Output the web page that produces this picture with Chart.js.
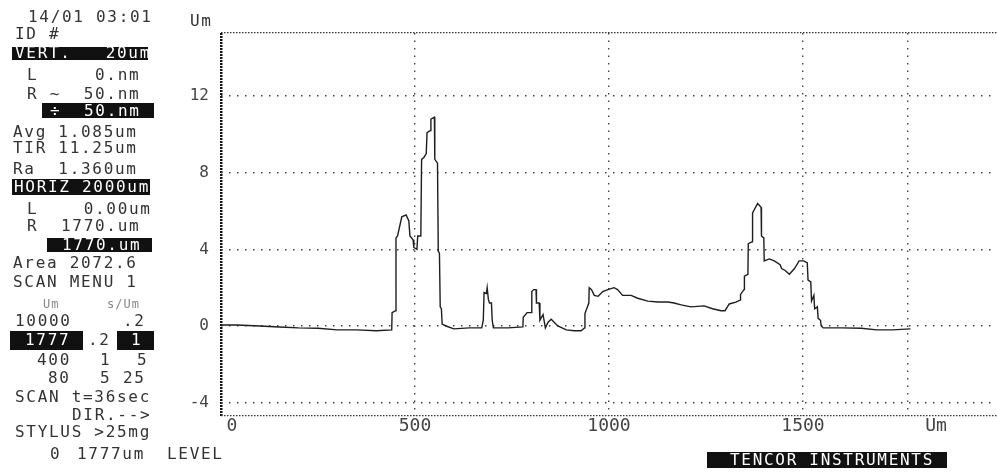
<!DOCTYPE html>
<html>
<head>
<meta charset="utf-8">
<script src="https://cdn.jsdelivr.net/npm/chart.js@4.4.1/dist/chart.umd.min.js"></script>
<style>
  body { margin: 0; background: #fff; }
  #wrap { position: relative; width: 997px; height: 476px; overflow: hidden; }
  #graph { position: absolute; left: 0; top: 0; }
  .t { position: absolute; white-space: pre; font: 16px 'DejaVu Sans Mono', monospace; letter-spacing: 1.7px; line-height: 18px; color: #333; }
  .inv { color: #fff; }
  .small { font-size: 12px; letter-spacing: 1px; color: #888; }
  .bar { position: absolute; background: #111; }
</style>
</head>
<body>
<div id="wrap"><canvas id="graph" width="997" height="476"></canvas></div>
<script>
// profile (scan position in um, height in um)
const positionUm = [0, 40, 100, 150, 200, 250, 300, 350, 400, 440,
  441, 450, 451, 455, 466, 477, 484, 487, 495, 497,
  505, 507, 515, 517, 523, 529, 531, 539, 541, 550,
  551, 558, 560, 563, 565, 568, 570, 580, 600, 640,
  672, 676, 678, 684, 686, 689, 692, 697, 699, 702,
  740, 778, 779, 789, 800, 801, 806, 812, 813, 820,
  822, 830, 836, 843, 851, 868, 890, 910, 928, 937,
  938, 948, 949, 955, 962, 972, 984, 997, 1013, 1022,
  1035, 1057, 1074, 1100, 1126, 1152, 1168, 1186, 1211, 1245,
  1267, 1289, 1299, 1310, 1327, 1338, 1339, 1348, 1349, 1358,
  1359, 1369, 1370, 1383, 1392, 1393, 1399, 1400, 1413, 1426,
  1441, 1445, 1454, 1465, 1478, 1490, 1502, 1511, 1513, 1520,
  1522, 1528, 1530, 1537, 1539, 1545, 1547, 1552, 1600, 1650,
  1690, 1730, 1777];
const heightUm = [0.05, 0.05, 0.0, -0.05, -0.1, -0.12, -0.2, -0.2, -0.25, -0.2,
  0.7, 0.8, 4.6, 4.7, 5.7, 5.8, 5.5, 4.7, 4.5, 4.1,
  4.0, 4.7, 4.7, 8.7, 8.8, 9.0, 10.1, 10.2, 10.8, 10.9,
  8.7, 8.5, 3.9, 3.8, 1.0, 0.9, 0.1, 0.0, -0.15, -0.1,
  -0.1, 0.3, 1.75, 1.7, 2.0, 1.4, 1.2, 1.2, 0.3, -0.1,
  -0.1, -0.05, 0.45, 0.7, 0.7, 1.8, 1.9, 1.9, 1.2, 1.2,
  0.3, 0.6, -0.1, 0.2, 0.35, 0.0, -0.2, -0.25, -0.25, -0.1,
  0.65, 1.2, 2.0, 1.9, 1.6, 1.55, 1.8, 1.9, 2.0, 1.9,
  1.6, 1.6, 1.45, 1.3, 1.25, 1.25, 1.2, 1.1, 1.0, 1.05,
  0.9, 0.8, 0.8, 1.15, 1.25, 1.35, 1.65, 1.9, 2.6, 2.7,
  4.3, 4.4, 5.9, 6.4, 6.2, 4.7, 4.6, 3.4, 3.5, 3.4,
  3.2, 3.0, 2.9, 2.7, 3.0, 3.4, 3.4, 3.3, 2.4, 2.3,
  1.3, 1.6, 0.9, 1.0, 0.4, 0.3, 0.0, -0.1, -0.1, -0.12,
  -0.2, -0.2, -0.15];

// axes: -4.7 / 15.3 are the frame edges (VERT 20um), 1770 is the R cursor
const yTickValues = [-4.7, -4, 0, 4, 8, 12, 15.3];
const yTickLabels = ['', '-4', '0', '4', '8', '12', ''];
const xTickValues = [0, 500, 1000, 1500, 1770, 1843];
const xTickLabels = ['0', '500', '1000', '1500', '', 'Um'];

// left panel of the printout
const panel = [
  { x: 28, y: 17, t: '14/01 03:01' },
  { x: 15, y: 34, t: 'ID #' },
  { x: 15, y: 53, t: 'VERT.   20um', bar: [12, 148, 47, 60] },
  { x: 27, y: 75, t: 'L     0.nm' },
  { x: 27, y: 94, t: 'R ~  50.nm' },
  { x: 50, y: 111, t: '÷  50.nm', bar: [42, 154, 103, 118] },
  { x: 13, y: 132, t: 'Avg 1.085um' },
  { x: 13, y: 148, t: 'TIR 11.25um' },
  { x: 13, y: 169, t: 'Ra  1.360um' },
  { x: 14, y: 187, t: 'HORIZ 2000um', bar: [12, 150, 179, 195] },
  { x: 27, y: 209, t: 'L    0.00um' },
  { x: 27, y: 226, t: 'R  1770.um' },
  { x: 62, y: 245, t: '1770.um', bar: [47, 152, 238, 252] },
  { x: 13, y: 263, t: 'Area 2072.6' },
  { x: 13, y: 282, t: 'SCAN MENU 1' },
  { x: 43, y: 304, t: 'Um', small: true },
  { x: 107, y: 304, t: 's/Um', small: true },
  { x: 15, y: 321, t: '10000' },
  { x: 123, y: 321, t: '.2' },
  { x: 25, y: 340, t: '1777', bar: [10, 83, 331, 350] },
  { x: 88, y: 340, t: '.2' },
  { x: 131, y: 340, t: '1', bar: [117, 154, 331, 350] },
  { x: 37, y: 360, t: '400' },
  { x: 100, y: 360, t: '1' },
  { x: 137, y: 360, t: '5' },
  { x: 48, y: 378, t: '80' },
  { x: 100, y: 378, t: '5' },
  { x: 123, y: 378, t: '25' },
  { x: 15, y: 397, t: 'SCAN t=36sec' },
  { x: 72, y: 415, t: 'DIR.-->' },
  { x: 15, y: 432, t: 'STYLUS >25mg' },
  { x: 50, y: 454, t: '0' },
  { x: 77, y: 454, t: '1777um' },
  { x: 167, y: 454, t: 'LEVEL' },
  { x: 190, y: 21, t: 'Um' },
  { x: 730, y: 460, t: 'TENCOR INSTRUMENTS', bar: [707, 947, 452, 468] }
];

const wrap = document.getElementById('wrap');
panel.forEach(p => {
  if (p.bar) {
    const b = document.createElement('div');
    b.className = 'bar';
    b.style.left = p.bar[0] + 'px';
    b.style.width = (p.bar[1] - p.bar[0]) + 'px';
    b.style.top = p.bar[2] + 'px';
    b.style.height = (p.bar[3] - p.bar[2]) + 'px';
    wrap.appendChild(b);
  }
  const d = document.createElement('div');
  d.className = 't' + (p.bar ? ' inv' : '') + (p.small ? ' small' : '');
  d.textContent = p.t;
  d.style.left = p.x + 'px';
  d.style.top = (p.y - 9) + 'px';
  wrap.appendChild(d);
});

const mono = "'DejaVu Sans Mono', monospace";
const isFrame = c => c.tick && (c.tick.value === -4.7 || c.tick.value === 15.3);

const ctx = document.getElementById('graph').getContext('2d');
new Chart(ctx, {
  type: 'line',
  data: {
    datasets: [{
      data: positionUm.map((x, i) => ({ x: x, y: heightUm[i] })),
      borderColor: '#1e1e1e',
      borderWidth: 1.4,
      pointRadius: 0,
      tension: 0,
      fill: false
    }]
  },
  options: {
    responsive: false,
    animation: false,
    events: [],
    layout: { padding: { top: 33, left: 0, right: 0, bottom: 0 } },
    plugins: { legend: { display: false }, tooltip: { enabled: false } },
    scales: {
      x: {
        type: 'linear',
        min: 0,
        max: 2000,
        afterBuildTicks: s => { s.ticks = xTickValues.map(v => ({ value: v })); },
        afterFit: s => { s.height = 60; },
        ticks: {
          autoSkip: false,
          maxRotation: 0,
          padding: 0,
          color: '#444',
          font: { family: mono, size: 18 },
          callback: (v, i) => (i === 0 ? '  ' : '') + xTickLabels[i]
        },
        grid: {
          drawTicks: false,
          color: c => (c.tick && c.tick.value === 1843) ? 'rgba(0,0,0,0)' : (c.tick && c.tick.value === 0 ? '#111' : '#444'),
          lineWidth: c => (c.tick && c.tick.value === 0) ? 2.5 : 1.4
        },
        border: {
          display: false,
          dash: c => (c.tick && c.tick.value === 0) ? [2, 1] : [1.5, 6]
        }
      },
      y: {
        min: -4.7,
        max: 15.3,
        afterBuildTicks: s => { s.ticks = yTickValues.map(v => ({ value: v })); },
        afterFit: s => { s.width = 221; },
        ticks: {
          autoSkip: false,
          padding: 12,
          color: '#444',
          font: { family: mono, size: 16 },
          callback: (v, i) => yTickLabels[i]
        },
        grid: {
          drawTicks: false,
          color: c => isFrame(c) ? '#333' : '#444',
          lineWidth: c => isFrame(c) ? 1.3 : 1.4
        },
        border: {
          display: false,
          dash: c => isFrame(c) ? [1.5, 1.5] : [1.5, 6.5]
        }
      }
    }
  }
});
</script>
</body>
</html>
